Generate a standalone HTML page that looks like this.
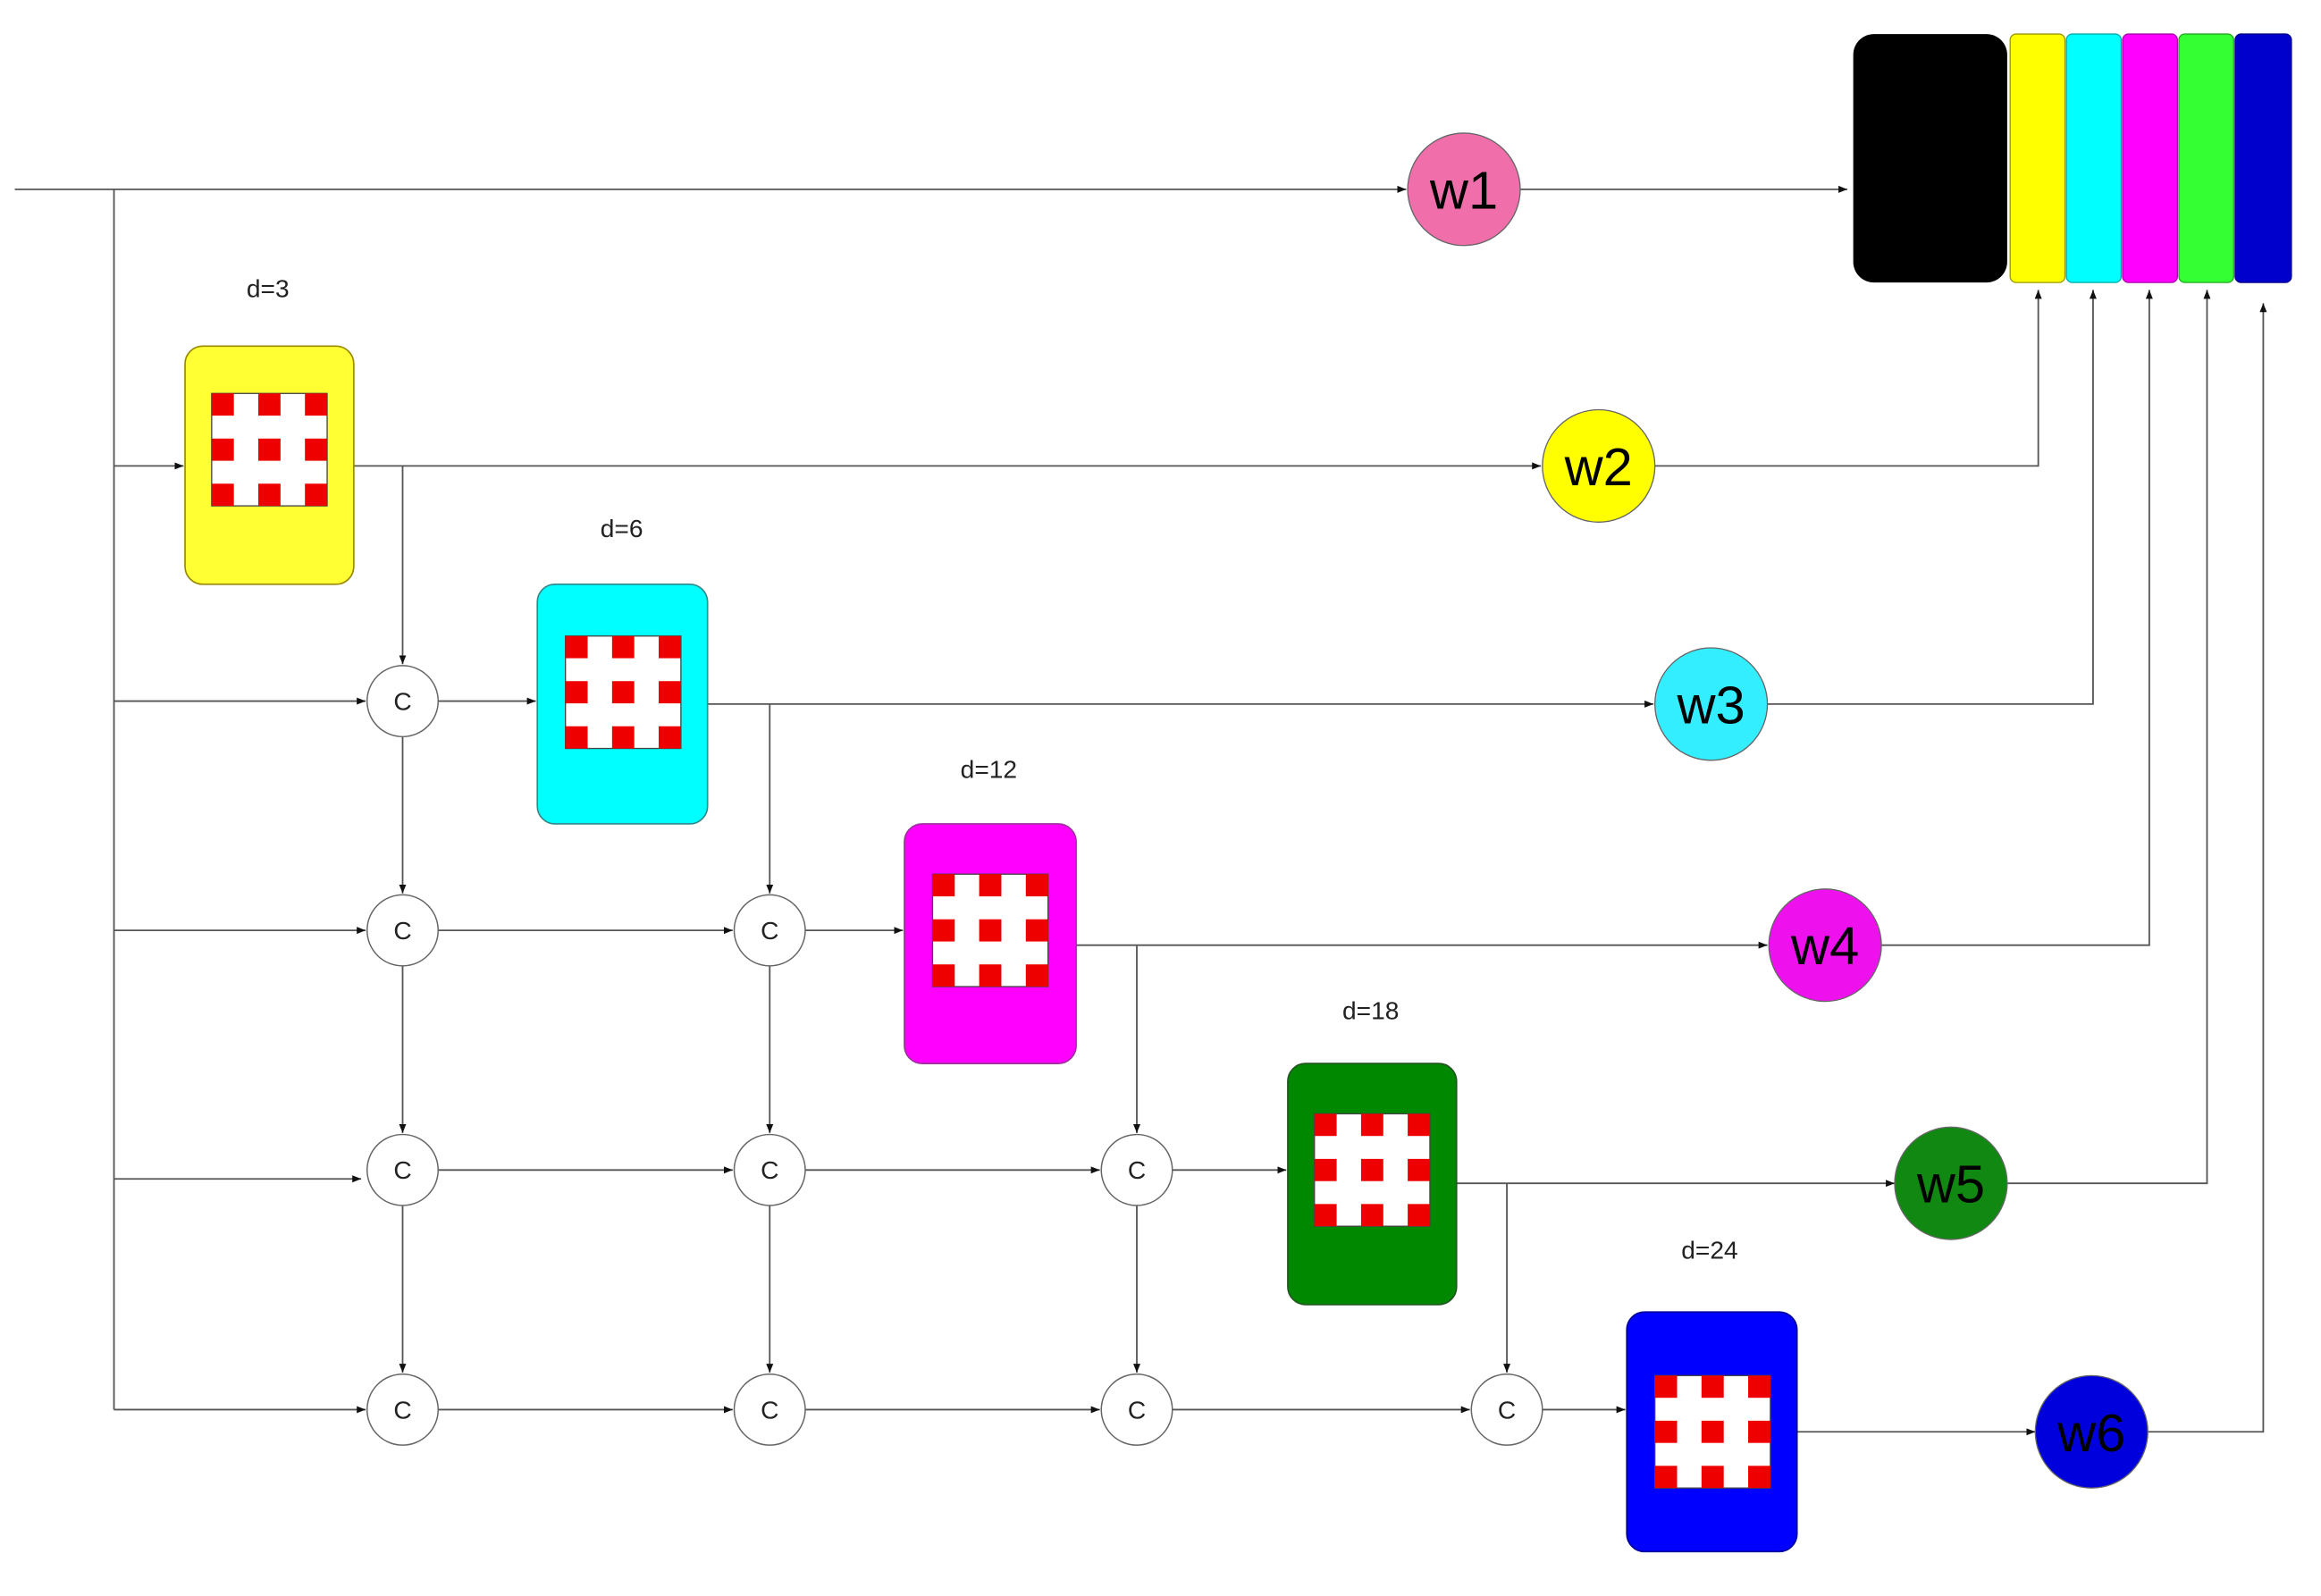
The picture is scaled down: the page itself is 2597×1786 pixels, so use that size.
<!DOCTYPE html>
<html><head><meta charset="utf-8"><style>
html,body{margin:0;padding:0;background:#fff;}
svg{display:block;}
text{font-family:"Liberation Sans",Arial,sans-serif;}
</style></head><body>
<svg width="2597" height="1786" viewBox="0 0 1568 1079" preserveAspectRatio="none" xmlns="http://www.w3.org/2000/svg">
<defs>
<marker id="a" viewBox="0 0 10 10" refX="10" refY="5" markerWidth="6" markerHeight="6" orient="auto" markerUnits="userSpaceOnUse"><path d="M0,1 L10,5 L0,9 z" fill="#111"/></marker>
<g id="grid">
<rect x="0" y="0" width="78" height="76" fill="#fff" stroke="#444" stroke-width="0.8"/>
<rect x="0" y="0" width="15" height="15" fill="#e00"/><rect x="31.5" y="0" width="15" height="15" fill="#e00"/><rect x="63" y="0" width="15" height="15" fill="#e00"/>
<rect x="0" y="30.5" width="15" height="15" fill="#e00"/><rect x="31.5" y="30.5" width="15" height="15" fill="#e00"/><rect x="63" y="30.5" width="15" height="15" fill="#e00"/>
<rect x="0" y="61" width="15" height="15" fill="#e00"/><rect x="31.5" y="61" width="15" height="15" fill="#e00"/><rect x="63" y="61" width="15" height="15" fill="#e00"/>
</g>
</defs>
<g stroke="#555" stroke-width="1.1" fill="none">
<line x1="10" y1="128" x2="950" y2="128" marker-end="url(#a)"/>
<line x1="1027" y1="128" x2="1248" y2="128" marker-end="url(#a)"/>
<line x1="77" y1="128" x2="77" y2="953"/>
<line x1="77" y1="315" x2="124" y2="315" marker-end="url(#a)"/>
<line x1="239" y1="315" x2="1041" y2="315" marker-end="url(#a)"/>
<polyline points="1118,315 1377,315 1377,196" marker-end="url(#a)"/>
<line x1="272" y1="315" x2="272" y2="449" marker-end="url(#a)"/>
<line x1="77" y1="474" x2="247" y2="474" marker-end="url(#a)"/>
<line x1="296" y1="474" x2="362" y2="474" marker-end="url(#a)"/>
<line x1="478" y1="476" x2="1117" y2="476" marker-end="url(#a)"/>
<polyline points="1194,476 1414,476 1414,196" marker-end="url(#a)"/>
<line x1="520" y1="476" x2="520" y2="604" marker-end="url(#a)"/>
<line x1="77" y1="629" x2="247" y2="629" marker-end="url(#a)"/>
<line x1="296" y1="629" x2="495" y2="629" marker-end="url(#a)"/>
<line x1="544" y1="629" x2="610" y2="629" marker-end="url(#a)"/>
<line x1="727" y1="639" x2="1194" y2="639" marker-end="url(#a)"/>
<polyline points="1271,639 1452,639 1452,196" marker-end="url(#a)"/>
<line x1="768" y1="639" x2="768" y2="766" marker-end="url(#a)"/>
<line x1="77" y1="797" x2="244" y2="797" marker-end="url(#a)"/>
<line x1="296" y1="791" x2="495" y2="791" marker-end="url(#a)"/>
<line x1="544" y1="791" x2="743" y2="791" marker-end="url(#a)"/>
<line x1="792" y1="791" x2="869" y2="791" marker-end="url(#a)"/>
<line x1="984" y1="800" x2="1280" y2="800" marker-end="url(#a)"/>
<polyline points="1356,800 1491,800 1491,196" marker-end="url(#a)"/>
<line x1="1018" y1="800" x2="1018" y2="928" marker-end="url(#a)"/>
<line x1="77" y1="953" x2="247" y2="953" marker-end="url(#a)"/>
<line x1="296" y1="953" x2="495" y2="953" marker-end="url(#a)"/>
<line x1="544" y1="953" x2="743" y2="953" marker-end="url(#a)"/>
<line x1="792" y1="953" x2="993" y2="953" marker-end="url(#a)"/>
<line x1="1042" y1="953" x2="1098" y2="953" marker-end="url(#a)"/>
<line x1="1214" y1="968" x2="1375" y2="968" marker-end="url(#a)"/>
<polyline points="1451,968 1529,968 1529,205" marker-end="url(#a)"/>
<line x1="272" y1="498" x2="272" y2="604" marker-end="url(#a)"/>
<line x1="272" y1="653" x2="272" y2="766" marker-end="url(#a)"/>
<line x1="272" y1="815" x2="272" y2="928" marker-end="url(#a)"/>
<line x1="520" y1="653" x2="520" y2="766" marker-end="url(#a)"/>
<line x1="520" y1="815" x2="520" y2="928" marker-end="url(#a)"/>
<line x1="768" y1="815" x2="768" y2="928" marker-end="url(#a)"/>
</g>
<rect x="1252" y="23" width="104" height="168" rx="14" fill="#000"/>
<rect x="1358" y="23" width="37" height="168" rx="4" fill="#ffff00" stroke="#999900" stroke-width="0.8"/>
<rect x="1396" y="23" width="37" height="168" rx="4" fill="#00ffff" stroke="#00aaaa" stroke-width="0.8"/>
<rect x="1434" y="23" width="37" height="168" rx="4" fill="#ff00ff" stroke="#aa00aa" stroke-width="0.8"/>
<rect x="1472" y="23" width="37" height="168" rx="4" fill="#33ff33" stroke="#22aa22" stroke-width="0.8"/>
<rect x="1510" y="23" width="38" height="168" rx="4" fill="#0000cc" stroke="#000088" stroke-width="0.8"/>
<rect x="125" y="234" width="114" height="161" rx="12" fill="#ffff33" stroke="#998800" stroke-width="1"/>
<use href="#grid" x="143" y="266"/>
<rect x="363" y="395" width="115" height="162" rx="12" fill="#00ffff" stroke="#338888" stroke-width="1"/>
<use href="#grid" x="382" y="430"/>
<rect x="611" y="557" width="116" height="162" rx="12" fill="#ff00ff" stroke="#993399" stroke-width="1"/>
<use href="#grid" x="630" y="591"/>
<rect x="870" y="719" width="114" height="163" rx="12" fill="#008800" stroke="#225522" stroke-width="1"/>
<use href="#grid" x="888" y="753"/>
<rect x="1099" y="887" width="115" height="162" rx="12" fill="#0000ff" stroke="#000099" stroke-width="1"/>
<use href="#grid" x="1118" y="930"/>
<g font-size="17" fill="#222" text-anchor="middle">
<text x="181" y="201">d=3</text>
<text x="420" y="363">d=6</text>
<text x="668" y="526">d=12</text>
<text x="926" y="689">d=18</text>
<text x="1155" y="851">d=24</text>
</g>
<g stroke="#666" stroke-width="0.8">
<circle cx="989" cy="128" r="38" fill="#f06eaa"/>
<circle cx="1080" cy="315" r="38" fill="#ffff00"/>
<circle cx="1156" cy="476" r="38" fill="#33eeff"/>
<circle cx="1233" cy="639" r="38" fill="#ee11ee"/>
<circle cx="1318" cy="800" r="38" fill="#118811"/>
<circle cx="1413" cy="968" r="38" fill="#0000dd"/>
</g>
<g font-size="36" fill="#000" text-anchor="middle">
<text x="989" y="141">w1</text>
<text x="1080" y="328">w2</text>
<text x="1156" y="489">w3</text>
<text x="1233" y="652">w4</text>
<text x="1318" y="813">w5</text>
<text x="1413" y="981">w6</text>
</g>
<g fill="#fff" stroke="#666" stroke-width="0.9">
<circle cx="272" cy="474" r="24"/>
<circle cx="272" cy="629" r="24"/><circle cx="520" cy="629" r="24"/>
<circle cx="272" cy="791" r="24"/><circle cx="520" cy="791" r="24"/><circle cx="768" cy="791" r="24"/>
<circle cx="272" cy="953" r="24"/><circle cx="520" cy="953" r="24"/><circle cx="768" cy="953" r="24"/><circle cx="1018" cy="953" r="24"/>
</g>
<g font-size="17" fill="#222" text-anchor="middle">
<text x="272" y="480">C</text>
<text x="272" y="635">C</text><text x="520" y="635">C</text>
<text x="272" y="797">C</text><text x="520" y="797">C</text><text x="768" y="797">C</text>
<text x="272" y="959">C</text><text x="520" y="959">C</text><text x="768" y="959">C</text><text x="1018" y="959">C</text>
</g>
</svg>
</body></html>
